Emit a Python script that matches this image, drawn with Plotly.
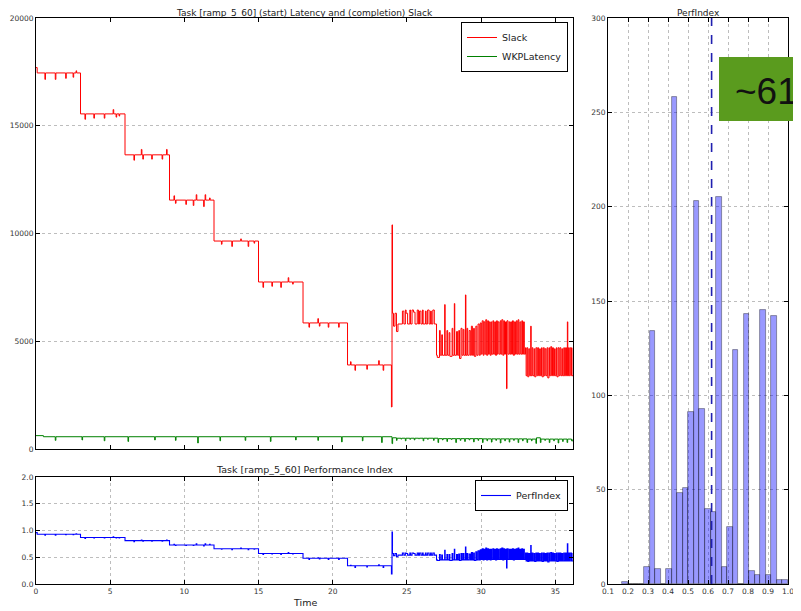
import plotly.graph_objects as go

# ---------------- data ----------------
time = [0.00, 0.08, 0.60, 0.64, 1.30, 1.34, 2.00, 2.04, 2.50, 2.54, 2.70, 2.74,
        3.00, 3.30, 3.34, 3.90, 3.94, 4.60, 4.64, 5.20, 5.24, 5.40, 5.44, 5.60, 5.64,
        6.00, 6.60, 6.64, 7.10, 7.14, 7.20, 7.24, 7.80, 7.84, 8.50, 8.54, 8.80, 8.84,
        9.00, 9.30, 9.34, 9.40, 9.44, 10.10, 10.14, 10.60, 10.64, 10.80, 10.84, 11.30, 11.34, 11.40, 11.44, 11.70, 11.74,
        12.00, 12.50, 12.54, 13.20, 13.24, 13.80, 13.84, 14.30, 14.34, 14.70, 14.74,
        15.00, 15.30, 15.34, 15.90, 15.94, 16.50, 16.54, 17.00, 17.04, 17.30, 17.34,
        18.00, 18.40, 18.44, 19.00, 19.04, 19.10, 19.14, 19.70, 19.74, 20.40, 20.44,
        21.00, 21.20, 21.24, 21.50, 21.54, 22.30, 22.34, 23.10, 23.14, 23.40, 23.44,
        23.96, 24.00, 24.03,
        24.10, 24.20, 24.30, 24.40, 24.70, 24.80, 24.90, 24.95, 25.05, 25.20, 25.25, 25.35, 25.45, 25.55,
        25.70, 25.78, 25.85, 25.95, 26.05, 26.10, 26.25, 26.30, 26.40, 26.50, 26.60, 26.65, 26.75, 26.85,
        27.00, 27.05, 27.20, 27.25, 27.35, 27.40, 27.55, 27.58, 27.70, 27.75, 27.85, 27.90, 28.05, 28.10,
        28.20, 28.23, 28.35, 28.42, 28.50, 28.55, 28.65, 28.72, 28.80, 28.85, 28.95, 28.98, 29.05, 29.10,
        29.20, 29.28, 29.35, 29.42, 29.50, 29.55, 29.65, 29.72, 29.80, 29.88,
        29.95, 30.02, 30.08, 30.15, 30.20, 30.26, 30.32, 30.38, 30.45, 30.50, 30.56, 30.62, 30.68, 30.72,
        30.80, 30.85, 30.92, 30.98, 31.05, 31.10, 31.15, 31.22, 31.30, 31.35, 31.40, 31.47, 31.53, 31.58,
        31.65, 31.72, 31.75, 31.82, 31.90, 31.95, 32.00, 32.06, 32.12, 32.18, 32.25, 32.32, 32.38, 32.44,
        32.50, 32.55, 32.62, 32.68, 32.75, 32.80, 32.86, 32.92,
        33.00, 33.04, 33.10, 33.15, 33.22, 33.28, 33.35, 33.38, 33.45, 33.50, 33.58, 33.62, 33.70, 33.76,
        33.82, 33.88, 33.95, 34.00, 34.08, 34.12, 34.20, 34.26, 34.32, 34.38, 34.45, 34.50, 34.58, 34.62,
        34.70, 34.76, 34.82, 34.88, 34.95, 35.00, 35.08, 35.12, 35.20, 35.26, 35.32, 35.38, 35.45, 35.50,
        35.58, 35.62, 35.70, 35.76, 35.82, 35.85, 35.90, 35.95, 36.02, 36.10, 36.20]

slack = [17700, 17450, 17150, 17450, 17150, 17450, 17200, 17450, 17250, 17450, 17550, 17450,
         15550, 15300, 15550, 15350, 15550, 15350, 15550, 15750, 15550, 15400, 15550, 15450, 15550,
         13650, 13400, 13650, 13900, 13650, 13450, 13650, 13450, 13650, 13450, 13650, 13900, 13650,
         11550, 11750, 11550, 11400, 11550, 11350, 11550, 11300, 11550, 11800, 11550, 11250, 11550, 11800, 11550, 11650, 11550,
         9650, 9500, 9650, 9400, 9650, 9750, 9650, 9400, 9650, 9550, 9650,
         7750, 7500, 7750, 7550, 7750, 7500, 7750, 7950, 7750, 7650, 7750,
         5850, 5650, 5850, 6050, 5850, 5700, 5850, 5650, 5850, 5650, 5850,
         3900, 4050, 3900, 3650, 3900, 3700, 3900, 4100, 3900, 3650, 3900,
         1950, 10400, 6300,
         5700, 6300, 5450, 5800, 6400, 5800, 6450, 6300, 5800, 6450, 5800, 6450, 6350, 5800,
         6450, 5800, 6400, 5800, 6450, 5800, 6400, 5800, 6450, 5800, 6400, 5800, 6450, 5800,
         4350, 4250, 5500, 4350, 5300, 4350, 6700, 4350, 5500, 4350, 5400, 4300, 5600, 4350,
         6750, 4350, 5450, 4350, 5500, 4200, 5600, 4350, 5550, 4350, 7150, 4350, 5600, 4350,
         5500, 4350, 5700, 4350, 5600, 4300, 5700, 4350, 5800, 4350,
         5850, 4400, 5950, 4350, 5900, 4400, 6000, 4350, 5950, 4400, 5900, 4350, 5900, 4400,
         5950, 4400, 5900, 4350, 5950, 4400, 5900, 4400, 5950, 4400, 6000, 4350, 5950, 4400,
         5900, 2800, 5950, 4400, 5900, 4400, 5900, 4400, 5950, 4350, 5900, 4400, 5950, 4400,
         6000, 4400, 5900, 4400, 5950, 4400, 5900, 4400,
         4700, 3400, 4700, 3350, 4650, 3400, 5700, 3400, 4700, 3400, 4650, 3350, 4700, 3400,
         4700, 3400, 4650, 3400, 4700, 3350, 4700, 3400, 4650, 3400, 4700, 3300, 4700, 3400,
         4750, 3400, 4700, 3400, 4650, 3400, 4700, 3350, 4700, 3400, 4700, 3400, 4650, 3400,
         4700, 3400, 4700, 3400, 5900, 3400, 4700, 3400, 4700, 3400, 4700]

perf = [0.96, 0.93, 0.91, 0.93, 0.91, 0.93, 0.92, 0.93, 0.92, 0.93, 0.94, 0.93,
        0.87, 0.85, 0.87, 0.86, 0.87, 0.86, 0.87, 0.88, 0.87, 0.86, 0.87, 0.86, 0.87,
        0.81, 0.79, 0.81, 0.82, 0.81, 0.80, 0.81, 0.80, 0.81, 0.80, 0.81, 0.82, 0.81,
        0.73, 0.74, 0.73, 0.72, 0.73, 0.72, 0.73, 0.72, 0.73, 0.75, 0.73, 0.71, 0.73, 0.75, 0.73, 0.74, 0.73,
        0.66, 0.65, 0.66, 0.64, 0.66, 0.67, 0.66, 0.64, 0.66, 0.65, 0.66,
        0.57, 0.55, 0.57, 0.56, 0.57, 0.55, 0.57, 0.59, 0.57, 0.56, 0.57,
        0.48, 0.46, 0.48, 0.49, 0.48, 0.47, 0.48, 0.46, 0.48, 0.46, 0.48,
        0.34, 0.35, 0.34, 0.31, 0.34, 0.32, 0.34, 0.36, 0.34, 0.31, 0.34,
        0.19, 0.97, 0.57,
        0.53, 0.57, 0.51, 0.54, 0.58, 0.54, 0.58, 0.57, 0.54, 0.58, 0.54, 0.58, 0.57, 0.54,
        0.58, 0.54, 0.58, 0.54, 0.58, 0.54, 0.58, 0.54, 0.58, 0.54, 0.58, 0.54, 0.58, 0.54,
        0.45, 0.44, 0.55, 0.45, 0.54, 0.45, 0.63, 0.45, 0.55, 0.45, 0.55, 0.44, 0.57, 0.45,
        0.65, 0.45, 0.55, 0.45, 0.56, 0.44, 0.57, 0.45, 0.57, 0.45, 0.69, 0.45, 0.57, 0.45,
        0.56, 0.45, 0.59, 0.45, 0.58, 0.44, 0.60, 0.45, 0.62, 0.45,
        0.64, 0.46, 0.66, 0.45, 0.65, 0.46, 0.67, 0.45, 0.66, 0.46, 0.65, 0.45, 0.65, 0.46,
        0.66, 0.46, 0.65, 0.45, 0.66, 0.46, 0.65, 0.46, 0.66, 0.46, 0.67, 0.45, 0.66, 0.46,
        0.65, 0.30, 0.66, 0.46, 0.65, 0.46, 0.65, 0.46, 0.66, 0.45, 0.65, 0.46, 0.66, 0.46,
        0.67, 0.46, 0.65, 0.46, 0.66, 0.46, 0.65, 0.46,
        0.58, 0.43, 0.58, 0.42, 0.57, 0.43, 0.72, 0.43, 0.58, 0.43, 0.57, 0.42, 0.58, 0.43,
        0.58, 0.43, 0.57, 0.43, 0.58, 0.42, 0.58, 0.43, 0.57, 0.43, 0.58, 0.41, 0.58, 0.43,
        0.59, 0.43, 0.58, 0.43, 0.57, 0.43, 0.58, 0.42, 0.58, 0.43, 0.58, 0.43, 0.57, 0.43,
        0.58, 0.43, 0.58, 0.43, 0.75, 0.43, 0.58, 0.43, 0.58, 0.43, 0.58]

wkp_time = [0.00, 0.50, 1.30, 1.34, 3.10, 3.14, 4.60, 4.64, 6.20, 6.24, 8.00, 8.04, 9.40, 9.44,
            10.90, 10.94, 12.40, 12.44, 14.10, 14.14, 15.80, 15.84, 17.50, 17.54, 19.00, 19.04,
            20.60, 20.64, 22.00, 22.04, 23.30, 23.34, 24.00, 24.04,
            24.30, 24.34, 24.60, 24.65, 24.90, 24.94, 25.20, 25.25, 25.50, 25.54, 25.80, 25.84,
            26.10, 26.14, 26.40, 26.44, 26.80, 26.84, 27.10, 27.14, 27.40, 27.44, 27.70, 27.74,
            28.00, 28.04, 28.30, 28.34, 28.60, 28.64, 28.90, 28.94, 29.20, 29.24, 29.50, 29.54,
            29.80, 29.84, 30.10, 30.14, 30.40, 30.44, 30.70, 30.74, 31.00, 31.04, 31.30, 31.34,
            31.60, 31.64, 31.90, 31.94, 32.20, 32.24, 32.50, 32.54, 32.80, 32.84, 33.10, 33.14,
            33.40, 33.44, 33.70, 33.74, 34.00, 34.04, 34.30, 34.34, 34.60, 34.64, 34.90, 34.94,
            35.20, 35.24, 35.50, 35.54, 35.80, 35.84, 36.10, 36.20]
wkp_latency = [620, 570, 400, 570, 420, 570, 380, 570, 350, 570, 420, 570, 400, 570,
               280, 570, 380, 570, 400, 570, 350, 570, 420, 570, 400, 570,
               330, 570, 380, 570, 300, 570, 250, 520,
               400, 500, 460, 500, 380, 500, 450, 500, 420, 500, 470, 500,
               380, 500, 450, 500, 400, 500, 300, 480, 420, 480, 350, 480,
               440, 480, 300, 480, 400, 480, 350, 480, 420, 480, 330, 480,
               400, 480, 300, 470, 380, 470, 320, 470, 400, 470, 280, 470,
               380, 470, 320, 470, 400, 470, 300, 470, 380, 470, 300, 460,
               380, 460, 260, 520, 300, 460, 400, 460, 300, 460, 380, 460,
               280, 460, 350, 460, 300, 460, 380, 460]

# histogram of PerfIndex (bin centres and counts)
hist_centers = [0.1838, 0.2115, 0.2392, 0.2668, 0.2945, 0.3222, 0.3498, 0.3775, 0.4052, 0.4328,
                0.4605, 0.4882, 0.5158, 0.5435, 0.5712, 0.5988, 0.6265, 0.6542, 0.6818, 0.7095,
                0.7372, 0.7648, 0.7925, 0.8202, 0.8478, 0.8755, 0.9032, 0.9308, 0.9585, 0.9862]
hist_counts = [1, 0, 0, 0, 9, 134, 8, 0, 8, 258,
               48, 51, 91, 203, 93, 40, 38, 205, 9, 30,
               124, 0, 143, 7, 5, 145, 5, 142, 2, 2]
perf_mean = 0.618
annot_text = "~61"

# ---------------- layout helpers ----------------
# The page body has an 8px margin, so the figure starts at (8, 8) in the window.
OFF = 8
W, H = 801 - OFF, 611 - OFF
def fx(p):
    return (p - OFF) / W
def fy(p):
    return 1 - (p - OFF) / H

FONT = "DejaVu Sans"
grid = dict(showgrid=True, gridcolor="#bdbdbd", griddash="dot", gridwidth=1)
frame = dict(showline=True, linecolor="black", linewidth=1, mirror="ticks",
             ticks="inside", ticklen=4, tickcolor="black", zeroline=False, automargin=False,
             tickfont=dict(family=FONT, size=7.5, color="#333"))

LEFT, RIGHT = 36, 573
TOP = 18

fig = go.Figure()
fig.add_trace(go.Scatter(x=time, y=slack, mode="lines", line=dict(color="#ff0000", width=1, shape="hv"),
                         name="Slack", xaxis="x", yaxis="y", legend="legend"))
fig.add_trace(go.Scatter(x=wkp_time, y=wkp_latency, mode="lines", line=dict(color="#008000", width=1, shape="hv"),
                         name="WKPLatency", xaxis="x", yaxis="y", legend="legend"))
fig.add_trace(go.Scatter(x=time, y=perf, mode="lines", line=dict(color="#0000ff", width=1.1, shape="hv"),
                         name="PerfIndex", xaxis="x2", yaxis="y2", legend="legend2"))
fig.add_trace(go.Bar(x=hist_centers, y=hist_counts, width=0.0277, xaxis="x3", yaxis="y3",
                     marker=dict(color="rgba(0,0,255,0.4)", line=dict(color="rgba(0,0,0,0.45)", width=0.8)),
                     showlegend=False))

fig.update_layout(
    width=W, height=H, margin=dict(l=0, r=0, t=0, b=0, autoexpand=False),
    paper_bgcolor="white", plot_bgcolor="white",
    font=dict(family=FONT, size=9, color="#222"),
    bargap=0,
    xaxis=dict(domain=[fx(LEFT), fx(RIGHT)], anchor="y", range=[0, 36.2], tickvals=[0, 5, 10, 15, 20, 25, 30, 35],
               showticklabels=False, showgrid=False, **frame),
    yaxis=dict(domain=[fy(449), fy(TOP)], anchor="x", range=[0, 20000], tickvals=[0, 5000, 10000, 15000, 20000],
               tickformat="d", **grid, **frame),
    xaxis2=dict(domain=[fx(LEFT), fx(RIGHT)], anchor="y2", range=[0, 36.2], tickvals=[0, 5, 10, 15, 20, 25, 30, 35],
                **grid, **frame),
    yaxis2=dict(domain=[fy(584), fy(477)], anchor="x2", range=[0, 2], tickvals=[0, 0.5, 1.0, 1.5, 2.0],
                tickformat=".1f", **grid, **frame),
    xaxis3=dict(domain=[fx(608), fx(788)], anchor="y3", range=[0.1, 1.0],
                tickvals=[0.1, 0.2, 0.3, 0.4, 0.5, 0.6, 0.7, 0.8, 0.9, 1.0], tickformat=".1f",
                **grid, **frame),
    yaxis3=dict(domain=[fy(584), fy(TOP)], anchor="x3", range=[0, 300], tickvals=[0, 50, 100, 150, 200, 250, 300],
                **grid, **frame),
    legend=dict(x=fx(568), y=fy(22), xanchor="right", yanchor="top", bordercolor="black", borderwidth=1,
                bgcolor="white", font=dict(family=FONT, size=9.5, color="#222"), itemwidth=30,
                tracegroupgap=0),
    legend2=dict(x=fx(568), y=fy(480), xanchor="right", yanchor="top", bordercolor="black", borderwidth=1,
                 bgcolor="white", font=dict(family=FONT, size=9.5, color="#222"), itemwidth=30),
)

# mean line on histogram
fig.add_shape(type="line", xref="x3", yref="y3 domain", x0=perf_mean, x1=perf_mean, y0=0, y1=1,
              line=dict(color="#2020b0", width=1.6, dash="dash"))
# green annotation box
fig.add_shape(type="rect", xref="paper", yref="paper", x0=fx(719), x1=1.05, y0=fy(121), y1=fy(57),
              fillcolor="#5a9b1e", line=dict(width=0), layer="above")
fig.add_annotation(text=annot_text, xref="paper", yref="paper", x=fx(733), y=fy(91), xanchor="left",
                   yanchor="middle", showarrow=False, font=dict(family="Liberation Sans", size=37, color="#111"))

# titles
titles = [("Task [ramp_5_60] (start) Latency and (completion) Slack", (LEFT + RIGHT) / 2, 13, 9),
          ("Task [ramp_5_60] Performance Index", (LEFT + RIGHT) / 2, 469, 9.5),
          ("PerfIndex", 698, 13, 9),
          ("Time", (LEFT + RIGHT) / 2, 602, 9.5)]
for txt, px, py, fs in titles:
    fig.add_annotation(text=txt, xref="paper", yref="paper", x=fx(px), y=fy(py), xanchor="center",
                       yanchor="middle", showarrow=False, borderpad=0,
                       font=dict(family=FONT, size=fs, color="#222"))

fig.write_html("out.html")
